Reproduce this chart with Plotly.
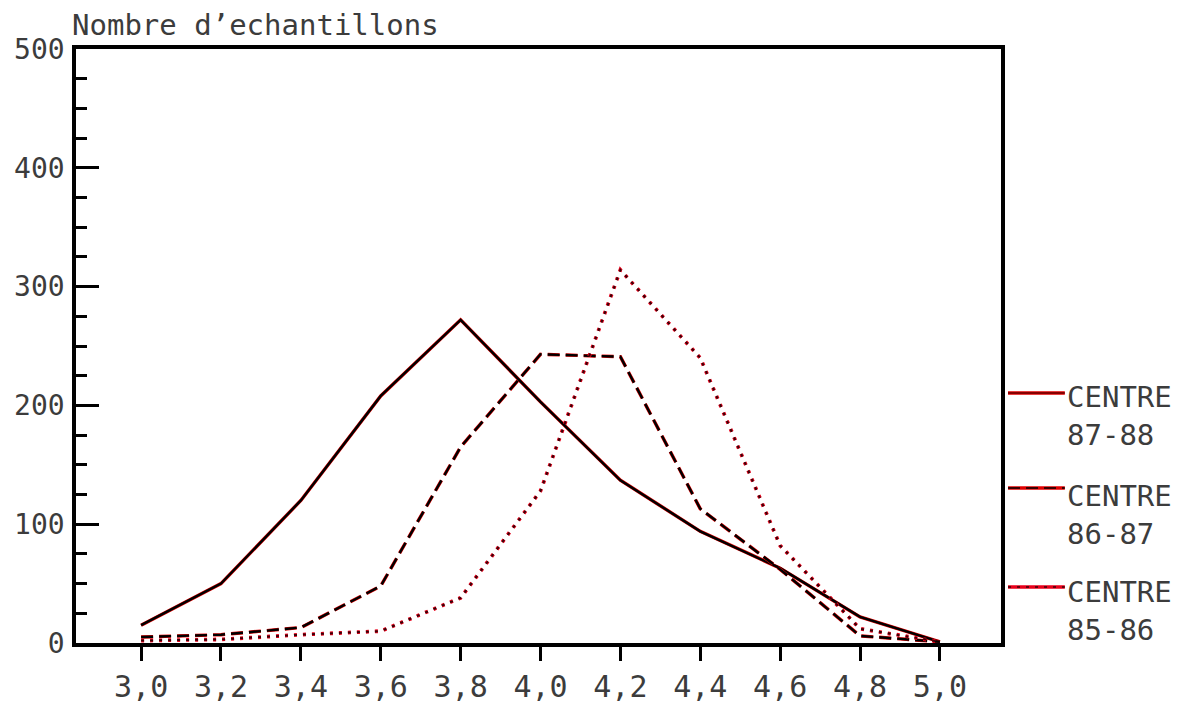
import plotly.graph_objects as go

# ---- data ----
x_values = [3.0, 3.2, 3.4, 3.6, 3.8, 4.0, 4.2, 4.4, 4.6, 4.8, 5.0]
centre_87_88 = [15, 50, 120, 208, 272, 203, 137, 94, 63, 22, 1]
centre_86_87 = [5, 7, 13, 48, 165, 243, 241, 113, 62, 6, 1]
centre_85_86 = [2, 3, 7, 10, 38, 128, 314, 240, 82, 12, 1]

x_tickvals = [3.0, 3.2, 3.4, 3.6, 3.8, 4.0, 4.2, 4.4, 4.6, 4.8, 5.0]
x_ticktext = ["3,0", "3,2", "3,4", "3,6", "3,8", "4,0", "4,2", "4,4", "4,6", "4,8", "5,0"]
y_tickvals = [0, 100, 200, 300, 400, 500]
y_ticktext = ["0", "100", "200", "300", "400", "500"]

series_names = ["CENTRE<br>87-88", "CENTRE<br>86-87", "CENTRE<br>85-86"]

FONT = "DejaVu Sans Mono"
TXT = "#3c3c3c"

styles = [
    dict(data=centre_87_88, dash="solid", under="#e00000", over="#000000",
         wu=3.4, wo=2.4),
    dict(data=centre_86_87, dash="12px,6px", under="#e00000", over="#000000",
         wu=3.4, wo=2.4),
    dict(data=centre_85_86, dash="3px,6px", under="#e8001a", over="#3a0008",
         wu=3.8, wo=2.0),
]

fig = go.Figure()
for s, name in zip(styles, series_names):
    fig.add_trace(go.Scatter(
        x=x_values, y=s["data"], mode="lines", showlegend=False,
        line=dict(color=s["under"], width=s["wu"], dash=s["dash"]),
        hoverinfo="skip"))
    fig.add_trace(go.Scatter(
        x=x_values, y=s["data"], mode="lines", showlegend=False, name=name,
        line=dict(color=s["over"], width=s["wo"], dash=s["dash"])))

# the page body adds an 8 px offset; the figure is sized to compensate
fig.update_layout(
    width=1173, height=703,
    margin=dict(l=68, r=180, t=41, b=68, pad=0),
    paper_bgcolor="white", plot_bgcolor="white",
    font=dict(family=FONT, size=30, color=TXT),
)

fig.update_xaxes(
    range=[2.837, 5.153], showgrid=False, zeroline=False, automargin=False,
    showline=True, mirror=True, linecolor="black", linewidth=3.5,
    ticks="outside", ticklen=14, tickwidth=2.5, tickcolor="black",
    tickvals=x_tickvals, ticktext=x_ticktext,
    tickfont=dict(family=FONT, size=30, color=TXT),
    ticklabelstandoff=0,
)
fig.update_yaxes(
    range=[0, 500], showgrid=False, zeroline=False, automargin=False,
    showline=True, mirror=True, linecolor="black", linewidth=3.5,
    ticks="inside", ticklen=23, tickwidth=2.5, tickcolor="black",
    tickvals=y_tickvals, ticktext=y_ticktext,
    tickfont=dict(family=FONT, size=28, color=TXT),
    ticklabelstandoff=2,
    minor=dict(ticks="inside", ticklen=11, tickwidth=2.5, tickcolor="black",
               dtick=25, tick0=0, showgrid=False),
)

# axis title
fig.add_annotation(
    text="Nombre d\u2019echantillons", xref="paper", yref="paper",
    x=-0.006, y=1, xanchor="left", yanchor="bottom", yshift=5,
    showarrow=False, font=dict(family=FONT, size=29, color=TXT))

# legend (custom, to the right of the plot)
legend_text_y = [0.382, 0.2155, 0.054]
legend_line_y = [0.4209, 0.261, 0.0943]
legend_over = ["#6a0000", "#000000", "#3a0008"]
for s, name, ty, ly, lo in zip(styles, series_names, legend_text_y,
                               legend_line_y, legend_over):
    fig.add_shape(type="line", xref="paper", yref="paper",
                  x0=1.0076, x1=1.069, y0=ly, y1=ly,
                  line=dict(color=s["under"], width=3.5, dash="solid"))
    fig.add_shape(type="line", xref="paper", yref="paper",
                  x0=1.0076, x1=1.069, y0=ly, y1=ly,
                  line=dict(color=lo, width=1.5, dash=s["dash"]))
    fig.add_annotation(text=name, xref="paper", yref="paper",
                       x=1.069, y=ty, xanchor="left", yanchor="middle",
                       align="left", showarrow=False,
                       font=dict(family=FONT, size=29, color=TXT))

fig.write_html("out.html")
